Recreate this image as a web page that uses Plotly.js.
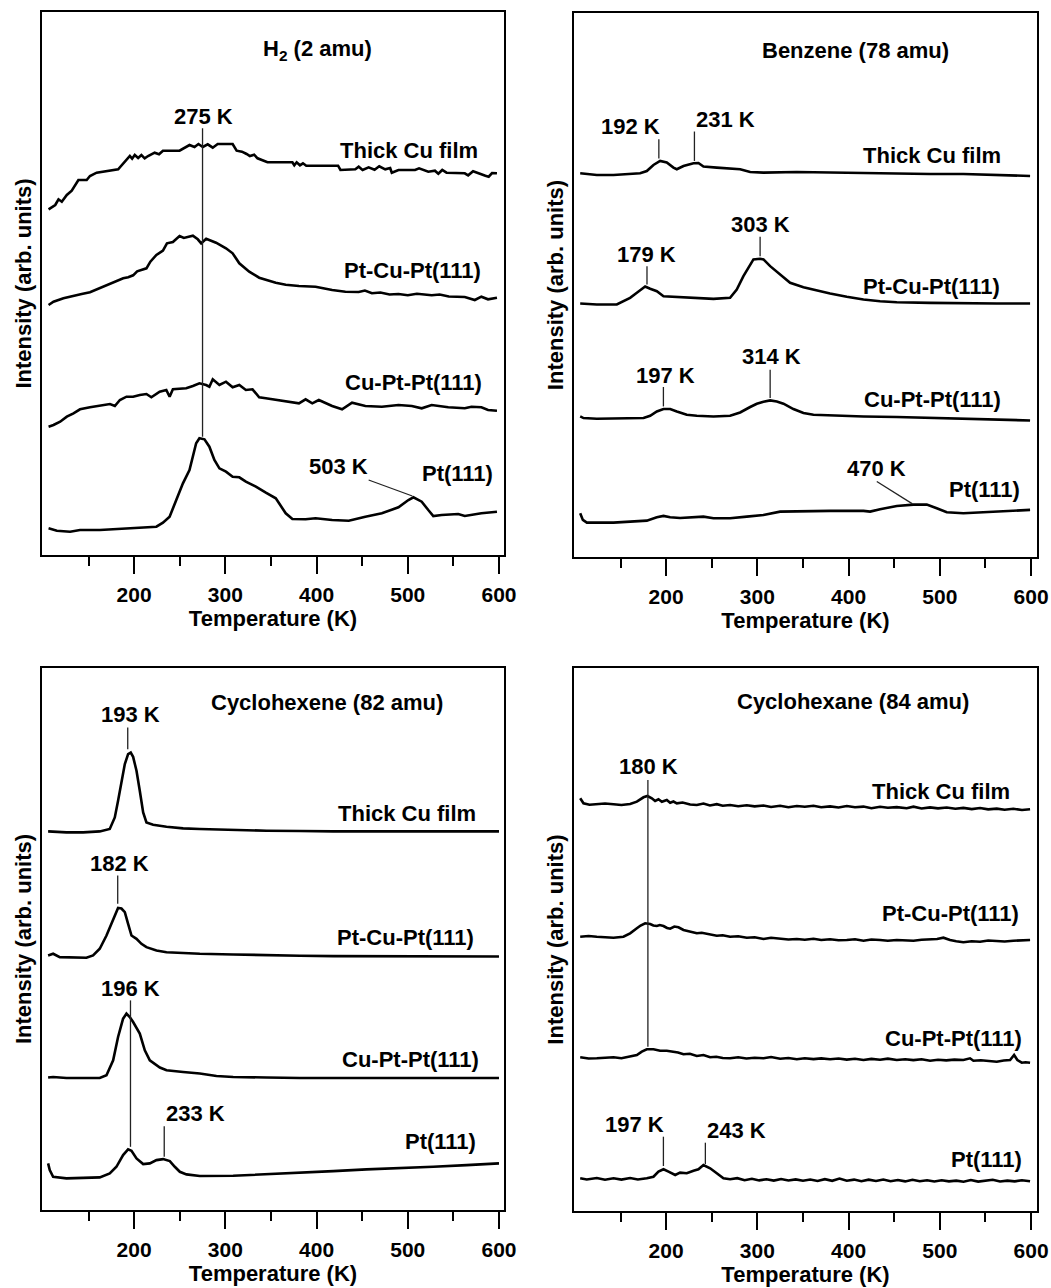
<!DOCTYPE html>
<html><head><meta charset="utf-8">
<script src="https://cdn.plot.ly/plotly-3.0.1.min.js"></script>
<style>html,body{margin:0;padding:0;background:#fff}</style>
</head><body><div id="chart" style="width:1051px;height:1288px"></div>
<script>
// ---------------- DATA ----------------
// Temperature axis ticks
const tempTicks = [200, 300, 400, 500, 600];
const tempMinorTicks = [150, 250, 350, 450, 550];
const curveNames = ['Thick Cu film', 'Pt-Cu-Pt(111)', 'Cu-Pt-Pt(111)', 'Pt(111)'];
const panelTitles = ['H<sub>2</sub> (2 amu)', 'Benzene (78 amu)', 'Cyclohexene (82 amu)', 'Cyclohexane (84 amu)'];

// H2 (2 amu)
const h2ThickT = [106.2,109.8,113.5,117.1,120.7,126.2,131.6,138.9,148,151.6,158.9,182.5,185.1,195.3,197.8,200.7,204.4,208,211.6,215.3,222.5,227.3,231.6,249.8,260.7,266.2,270.5,275.3,280.7,286.2,291.6,308,312.4,318.2,323.3,326.9,331.6,335.3,346.2,373.5,375.6,378.2,381.8,385.1,388.7,423.6,426.2,442.5,446.2,450.5,457.1,463.6,468.7,475.3,480.7,482.5,489.8,508,512.4,522.5,529.8,533.5,537.8,542.5,562.5,566.2,571.6,577.1,585.1,588.7,592.4,597.8];
const h2ThickI = [345.7,347.7,350,355.7,353.3,360,364.3,375,375,379,382.3,385.7,388.3,399,396.3,400,397,400,396.7,399,402.3,400.7,404.3,404.3,410,408,411,408,410.7,407.3,411,411,404.3,403.3,401,399,400.3,396.7,392.7,392.7,389.7,392.7,389.7,391.7,389.3,389.3,385,385.7,388.3,385,387.7,385.3,388.7,385.7,387,382.3,385,385,386.7,383.3,384.3,381.3,385,382.3,381.7,379.7,383.7,381.7,379.3,378.3,382,381.7];
const h2PtCuT = [106.2,111.6,122.5,131.6,142.5,151.6,160.7,169.8,177.1,188,193.5,198.9,203.3,213.5,217.8,224.4,231.6,236,242.5,249.8,254.5,259.3,264.4,269.8,273.5,279,289.8,300.7,308,315.3,326.2,337.1,344.4,355.3,366.2,380.7,398.9,417.1,431.6,446.2,453,460.7,470,480,489.8,500,510,526.2,535,545,562.5,573.5,580.7,588,597.8];
const h2PtCuI = [250,253.3,256.7,259,261,262.7,266,269.3,272.7,276.7,277.7,279.7,283.7,286.7,293.3,300,304.3,311.7,313,319,317,318,319.3,315.7,311.7,316.3,312.3,306.7,301.7,291.7,283.3,277.3,275,272.3,270.3,269,268.3,265,263.3,263,264.5,261.7,262.5,260.5,261,259.8,261.2,259.7,260.5,258.5,258,255,258.3,255.7,257.3];
const h2CuPtT = [106.2,111.6,118.9,126.2,133.5,140.7,151.6,162.5,173.5,178.9,184.4,191.6,198.9,206.2,213.5,218.9,228,235.3,238.9,242.5,257.1,264.4,271.6,278.9,282.5,286.2,293.5,300.7,308,315.3,322.5,329.8,337.1,344.4,358.9,373.5,380.7,388,395.3,402.5,417.1,428,438.9,453.5,471.6,489.8,504.4,515.3,526.2,544.4,562.5,569.8,580.7,588,597.8];
const h2CuPtI = [128.3,130,133.3,138.3,141.7,145.7,147.7,149,151,149,155,158.3,158.3,160,161,157.7,163.3,165,158.3,165.7,166.7,169,171.7,170,168.3,175.7,170,173.3,167.7,170,165,165.7,157.7,156.7,155,153.3,151.7,155.7,151.7,155,149,145.7,152.3,149,148.3,150,149,146.7,150,147.7,146.7,148.3,147.7,145,144.3];
const h2PtT = [106.2,115.3,129.8,140.7,162.5,177.1,198.9,213.5,224.4,231.6,238.9,246.2,253.5,260.7,264.4,268,271.6,277.1,282.5,288,293.5,300.7,308,315.3,322.5,333.5,344.4,355.3,366.2,373.5,388,398.9,417.1,435.3,453.5,471.6,489.8,500.7,506.2,515.3,522.5,528,537.1,555.3,562.5,580.7,597.8];
const h2PtI = [26.7,24.3,23.3,25,25,25.7,26.7,27.7,28.3,32.3,38.3,55,71.7,85,98.3,111.7,116.7,115.7,108.3,95,86.7,83.3,78.3,77.7,73.3,68.3,62.3,56.7,41.7,36,35.7,36.7,35,34.3,38.3,41.7,47.7,55,57.7,53.3,45,39,40,41,39,41.7,43.3];
const h2PeaksK = [275, 503];

// Benzene (78 amu)
const bzThickT = [105.8,124,142.3,160.5,171.5,178.8,186.1,193.4,200.7,208,211.7,219,230,235.4,240.9,255.5,270.1,281.1,292.1,306.7,343.2,379.7,416.3,452.8,489.3,525.8,562.4,598.9];
const bzThickI = [383,381.3,381.3,382,383,385.3,391.3,395.3,393.7,388.7,387,390.3,393,393.3,389.7,388.7,387.7,387,384.3,383.7,384.3,383.7,383.7,383,382.3,382.3,381,380.3];
const bzPtCuT = [105.8,124,145.9,153.2,160.5,167.9,177,182.5,189.8,197.1,215.3,233.6,251.9,270.1,277.4,284.7,292.1,295.7,303,306.7,314,324.9,335.9,350.5,365.1,379.7,398,416.3,434.5,452.8,489.3,525.8,562.4,598.9];
const bzPtCuI = [253,252,252,255.3,258.7,263.7,270,267.7,265.3,260.3,259.3,258.7,257.7,258.7,267,280.3,292,297,297.7,297,290.3,282,273.7,269.3,266,263,259.7,257,255.3,254.3,253.7,253,253,253];
const bzCuPtT = [105.8,109.4,124,160.5,175.2,182.5,189.8,197.1,204.4,211.7,222.6,233.6,251.9,270.1,281.1,292.1,299.4,306.7,314,321.3,328.6,339.5,350.5,361.5,379.7,416.3,452.8,489.3,525.8,562.4,598.9];
const bzCuPtI = [140.3,138.7,138,138.7,138.7,141,145.3,147.7,147.7,145.3,142,141,140.3,141,144.3,149.7,153,155,156.3,155.3,153,147.7,143.7,142,141.3,140.3,139.7,138.7,137.7,137,136.3];
const bzPtT = [105.8,108.7,113.1,142.3,178.8,189.8,197.1,204.4,215.3,233.6,240.9,251.9,270.1,288.4,306.7,324.9,343.2,379.7,416.3,423.6,434.5,452.8,471.1,485.7,496.6,507.6,525.8,562.4,598.9];
const bzPtI = [43.7,37,34.3,34.3,36.3,39.7,41,39.7,39,40.3,40.3,38.7,38.7,40.3,42,45.3,45.7,46,46,45.3,47.7,51,52.3,52.3,48.7,44.7,43.7,45,47];
const bzPeaksK = [192, 231, 179, 303, 197, 314, 470];

// Cyclohexene (82 amu)
const cheThickT = [105.7,125.8,144.1,162.3,173.3,178.8,182.4,186.1,189.8,193.4,196.3,198.9,202.6,206.2,209.9,213.5,220.8,235.5,253.7,272,308.6,345.2,381.7,418.3,491.4,564.5,600];
const cheThickI = [379.3,378.3,378.3,379.3,381.7,393.3,410,430,446.7,456.7,458.3,454,440,420,398.3,388.3,386,384,382.3,381.7,380.7,380,379.7,379.3,379.3,379.3,379.3];
const chePtCuT = [105.7,111.2,118.5,147.7,155,162.3,169.7,177,182.4,186.1,189.8,193.4,197.1,202.6,208,213.5,224.5,235.5,272,308.6,345.2,381.7,418.3,491.4,564.5,600];
const chePtCuI = [255,256.7,253.3,252.7,255,261.7,275,290,302.5,302,298.3,286.7,275,271.7,266.7,263.3,260,258.3,256.7,256,255,254.7,254.3,254,254,254];
const cheCuPtT = [105.7,111.2,125.8,162.3,169.7,177,182.4,187.9,191.6,195.2,198.9,206.2,211.7,217.2,228.2,235.5,253.7,272,290.3,308.6,345.2,381.7,600];
const cheCuPtI = [132.7,133.3,132.3,132.3,135,150,173.3,191.7,196.7,193.3,188.3,176.7,160,150,142.7,140,138.3,136.7,134.3,133.3,132.7,132.3,132.3];
const chePtT = [105.7,107.5,111.2,125.8,162.3,173.3,180.6,187.9,193.4,197.1,202.6,209.9,217.2,224.5,231.8,239.1,244.6,250.1,257.4,272,308.6,345.2,381.7,418.3,454.8,491.4,528,564.5,600];
const chePtI = [46.7,40,33.3,31.7,32.7,36.7,43.3,55,60.7,59.3,51.7,46,46.7,50,51,49,43.3,38.3,35.7,34,34.3,35.7,37.3,39,40.7,41.7,43.3,45,46.7];
const chePeaksK = [193, 182, 196, 233];

// Cyclohexane (84 amu)
const cxaThickT = [105.8,109.4,116,124,133,142.3,151,160.5,167.9,175.2,179.5,184.3,187.9,191.6,195.3,200.7,204.4,208,211.7,218,226.3,233.6,240.9,248,255.5,262,270.1,279,288.4,297,306.7,315,324.9,334,343.2,352,361.5,370,379.7,389,398,407,416.3,425,434.5,443,452.8,463.7,471.1,480,489.3,498,507.6,517,525.8,535,544.1,553,562.4,571,580.6,590,598.9];
const cxaThickI = [412.7,407.7,406.2,406.7,407.5,406.7,406,407,409.3,413.7,415,412.7,410,411.7,409.3,411,408.3,409.5,407.7,408.5,406.5,406,407.5,405.5,406.8,405.3,406,404.8,405.8,404.6,405.5,404,405.2,403.8,405,404.2,405.3,403.8,404.6,403.5,405,403.7,404.4,402.8,404.3,403.2,403.9,402.7,404.3,402.5,403.6,402.6,403.5,402.2,403.1,401.9,403,401.6,402.4,401.3,402.2,401,401.7];
const cxaPtCuT = [105.8,115,124,133,142.3,153.2,160.5,167.9,172,177,182.5,186,189.8,193,197.1,201,204.4,209,213.5,219,226.3,233.6,239,244.6,250,255.5,262,270.1,279,288.4,297,306.7,315,324.9,334,343.2,352,361.5,370,379.7,389,398,407,416.3,425,434.5,443,452.8,462,471.1,480,489.3,497,503.9,511.2,518,525.8,535,544.1,553,562.4,571,580.6,590,598.9];
const cxaPtCuI = [274.3,275,274.3,273.5,273.3,274.3,277.7,282.7,285.5,287.7,287,285.5,285,286,285,283,282.3,284.5,283.7,281,279.3,277.7,278.2,277,276.2,275.3,275.8,274.3,274.8,273.3,273.8,272,273.3,272.7,271.5,272,271.2,272.3,271,271.7,270.8,271,271.8,270.3,271.5,271,270.2,271,270.5,270.3,271.2,271.7,272,273.3,271,269.8,268.7,269.8,269.3,270.5,270.3,269.5,270.3,270.8,271];
const cxaCuPtT = [105.8,115,124,133,142.3,151,160.5,167.9,173.3,178.8,186.1,193.4,200.7,208,213,219,226,233.6,240.9,248.2,255,262,270.1,279,288,297,306.7,315,325,334,343.2,352,361.5,370,379.7,389,398,407,416.3,425,434.5,443,452.8,462,471,480,489.3,498,507,516,525.8,533.1,536.8,545,553,562.4,570,577,581.4,585,589.8,594,598.9];
const cxaCuPtI = [153.7,152.5,152.7,153.5,153.7,152.8,154.3,156,159.3,161.7,161.7,160.3,160.3,159.3,158.5,156.7,157.2,155,156,153.7,154.3,153,152.7,153.8,152.5,153.2,152.7,154,152.3,153,151.7,152.8,151.9,152.6,151.7,152.5,151.4,152.3,151,152.1,151.2,152.4,151,151.8,150.9,151.7,150.3,151.3,150.6,151.4,151,152.7,150.3,150.8,149.8,149.3,150.5,151,156,151,148.3,148.8,148.3];
const cxaPtT = [105.8,113,124,133,142.3,151,160.5,169,178.8,186.1,191.6,197.1,202.6,209.9,215.3,222.6,230,235.4,240.9,248.2,255.5,262.8,270.1,278,286,294,302,310,318,326,334,342,350,358,366,374,382,390,398,406,414,422,430,438,446,454,462,470,478,486,494,502,510,518,526,534,542,550,558,566,574,582,590,598.9];
const cxaPtI = [32.7,31.5,33,31.2,32.7,31.4,33,31.5,32.7,34.3,39.3,41.7,39.3,36,38.3,37.7,40.3,41.7,46,42.7,37.7,32.7,31.7,32.8,30.8,32.2,30.6,31.8,30.4,32,30.5,31.6,30.2,31.5,30,31.8,30.2,32.5,30.3,31.4,29.8,31.3,30,31.5,29.8,31,29.6,31.2,29.8,30.7,29.5,30.8,29.6,30.4,29.3,31,29.4,30.2,31.2,29.5,30.4,29.6,30.8,29.8];
const cxaPeaksK = [180, 197, 243];

// ---------------- BUILD ----------------
const FONT = 'Liberation Sans, Arial, Helvetica, sans-serif';
const ax = ['', '2', '3', '4'];
const traces = [];
function curve(p, x, y, name) {
  traces.push({type:'scatter', mode:'lines', x:x, y:y, name:name, xaxis:'x'+ax[p], yaxis:'y'+ax[p],
    line:{color:'#000', width:2.6, shape:'linear'}, hoverinfo:'x+y+name', showlegend:false});
}
const series = [
  [[h2ThickT,h2ThickI],[h2PtCuT,h2PtCuI],[h2CuPtT,h2CuPtI],[h2PtT,h2PtI]],
  [[bzThickT,bzThickI],[bzPtCuT,bzPtCuI],[bzCuPtT,bzCuPtI],[bzPtT,bzPtI]],
  [[cheThickT,cheThickI],[chePtCuT,chePtCuI],[cheCuPtT,cheCuPtI],[chePtT,chePtI]],
  [[cxaThickT,cxaThickI],[cxaPtCuT,cxaPtCuI],[cxaCuPtT,cxaCuPtI],[cxaPtT,cxaPtI]]
];
series.forEach((s, p) => s.forEach((c, i) => curve(p, c[0], c[1], curveNames[i])));

const annotations = [];
function txt(p, x, y, text) {
  annotations.push({xref:'x'+ax[p], yref:'y'+ax[p], x:x, y:y, text:text, showarrow:false,
    xanchor:'center', yanchor:'middle', font:{family:FONT, size:22, color:'#000', weight:'bold'}});
}
function leader(p, x0, y0, x1, y1) {
  traces.push({type:'scatter', mode:'lines', x:[x0, x1], y:[y0, y1], xaxis:'x'+ax[p], yaxis:'y'+ax[p],
    line:{color:'#222', width:1.3}, hoverinfo:'skip', showlegend:false});
}
function vpeak(p, k, lx, ly, yTop, yBot) { txt(p, lx, ly, k + ' K'); leader(p, k, yTop, k, yBot); }

// panel titles and curve labels
const titlePos = [[400.7,505],[407.1,505.3],[411.7,508.3],[405.3,509.3]];
titlePos.forEach((pos, p) => txt(p, pos[0], pos[1], panelTitles[p]));
const labelPos = [
  [[501.5,405],[505,285],[505.8,172.3],[554.5,81.7]],
  [[491.1,400.3],[491.1,270.3],[491.5,157],[548.5,67.7]],
  [[499.1,397.7],[497.6,273.3],[502.7,151],[536,68.3]],
  [[501,419.3],[512,297.7],[514.9,172.7],[551,51]]
];
labelPos.forEach((ps, p) => ps.forEach((pos, i) => txt(p, pos[0], pos[1], curveNames[i])));

// H2
vpeak(0, h2PeaksK[0], 276, 438.3, 426.7, 118.3);
txt(0, 424.4, 88.3, h2PeaksK[1] + ' K'); leader(0, 457.1, 75, h2PeaksK[1] + 2, 59);
// Benzene
vpeak(1, bzPeaksK[0], 160.5, 429.3, 417, 397.7);
vpeak(1, bzPeaksK[1], 265, 437, 424.7, 395.3);
vpeak(1, bzPeaksK[2], 178.8, 302, 290.3, 272);
vpeak(1, bzPeaksK[3], 303.7, 332, 319.7, 300.3);
vpeak(1, bzPeaksK[4], 198.9, 181, 169.7, 150.3);
vpeak(1, bzPeaksK[5], 315.1, 199.7, 187, 158.7);
txt(1, 430.5, 88.7, bzPeaksK[6] + ' K'); leader(1, 430.9, 75.3, bzPeaksK[6], 53);
// Cyclohexene
vpeak(2, chePeaksK[0], 196, 496.7, 483.3, 461.7);
vpeak(2, chePeaksK[1], 184.3, 346.7, 335, 306.7);
vpeak(2, chePeaksK[2], 196, 221.7, 210, 63.3);
vpeak(2, chePeaksK[3], 266.9, 96.7, 84, 53.3);
// Cyclohexane
vpeak(3, cxaPeaksK[0], 180.6, 444.3, 431, 164.3);
vpeak(3, cxaPeaksK[1], 165.3, 86, 74.3, 45);
vpeak(3, cxaPeaksK[2], 277.1, 80.3, 68.3, 47);

const tfont = {family:FONT, size:22, color:'#000', weight:'bold'};
function xAxis(dom, anchor, rng) {
  return {domain:dom, anchor:anchor, range:rng, showline:true, linecolor:'#000', linewidth:2, mirror:true,
    ticks:'outside', ticklen:17, tickwidth:2, tickcolor:'#000', tickmode:'array', tickvals:tempTicks,
    ticktext:tempTicks.map(String), tickfont:{family:FONT, size:21, color:'#000', weight:'bold'},
    ticklabelstandoff:3, showgrid:false, zeroline:false, fixedrange:true,
    minor:{tickmode:'array', tickvals:tempMinorTicks, ticks:'outside', ticklen:9, tickwidth:2, tickcolor:'#000', showgrid:false},
    title:{text:'Temperature (K)', font:tfont, standoff:0}};
}
function yAxis(dom, anchor) {
  return {domain:dom, anchor:anchor, range:[0, 543], showline:true, linecolor:'#000', linewidth:2, mirror:true,
    ticks:'', showticklabels:false, showgrid:false, zeroline:false, fixedrange:true,
    title:{text:'Intensity (arb. units)', font:tfont, standoff:2}};
}
const layout = {
  width:1051, height:1288, margin:{l:42, r:14, t:12, b:77},
  paper_bgcolor:'#fff', plot_bgcolor:'#fff',
  font:{family:FONT, size:22, color:'#000', weight:'bold'},
  showlegend:false,
  xaxis: xAxis([0, 0.46432], 'y', [99, 605.5]),
  xaxis2: xAxis([0.53467, 1], 'y2', [99, 606.5]),
  xaxis3: xAxis([0, 0.46432], 'y3', [99, 605.5]),
  xaxis4: xAxis([0.53467, 1], 'y4', [99, 606.5]),
  yaxis: yAxis([0.54712, 1], 'x'),
  yaxis2: yAxis([0.54545, 0.99917], 'x2'),
  yaxis3: yAxis([0.00083, 0.45288], 'x3'),
  yaxis4: yAxis([0, 0.45288], 'x4'),
  annotations: annotations
};
Plotly.newPlot('chart', traces, layout, {displayModeBar:false, responsive:false});
</script></body></html>
